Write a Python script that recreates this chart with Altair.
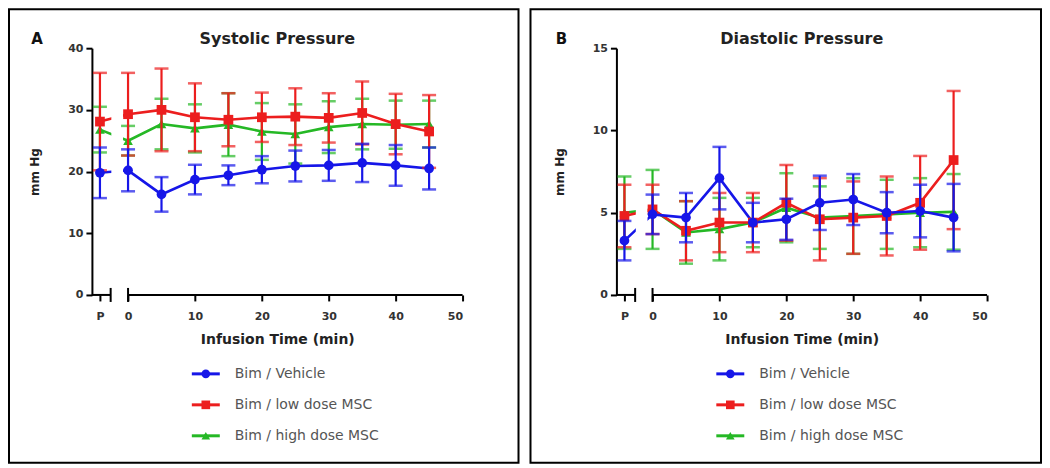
import altair as alt
import pandas as pd

# ---------------- data ----------------
time_labels = ["P", "0", "5", "10", "15", "20", "25", "30", "35", "40", "45"]
series = ["Bim / Vehicle", "Bim / low dose MSC", "Bim / high dose MSC"]
colors = ["#1616e8", "#ec1e1e", "#25b825"]
shapes = ["circle", "square", "triangle-up"]

sys_vehicle_mean = [19.8, 20.2, 16.3, 18.7, 19.4, 20.3, 20.9, 21.0, 21.4, 21.0, 20.5]
sys_vehicle_err = [4.1, 3.4, 2.8, 2.4, 1.6, 2.2, 2.5, 2.5, 3.1, 3.3, 3.4]
sys_low_mean = [28.1, 29.3, 30.0, 28.8, 28.4, 28.8, 28.9, 28.7, 29.5, 27.7, 26.5]
sys_low_err = [7.9, 6.7, 6.7, 5.5, 4.3, 4.0, 4.6, 4.0, 5.1, 4.9, 5.9]
sys_high_mean = [26.8, 25.0, 27.7, 27.0, 27.6, 26.5, 26.1, 27.2, 27.7, 27.6, 27.7]
sys_high_err = [3.7, 2.4, 4.1, 3.9, 5.1, 4.6, 4.8, 4.2, 4.1, 3.9, 3.8]

dia_vehicle_mean = [3.3, 4.9, 4.7, 7.1, 4.4, 4.6, 5.6, 5.8, 5.0, 5.1, 4.7]
dia_vehicle_err = [1.2, 1.2, 1.5, 1.9, 1.2, 1.25, 1.65, 1.55, 1.25, 1.6, 2.05]
dia_low_mean = [4.8, 5.2, 3.9, 4.4, 4.4, 5.6, 4.6, 4.7, 4.8, 5.6, 8.2]
dia_low_err = [1.9, 1.5, 1.8, 1.8, 1.8, 2.3, 2.5, 2.2, 2.4, 2.85, 4.2]
dia_high_mean = [5.0, 5.2, 3.8, 4.0, 4.4, 5.3, 4.7, 4.8, 4.9, 5.0, 5.05]
dia_high_err = [2.2, 2.4, 1.9, 1.9, 1.5, 2.1, 1.9, 2.3, 2.1, 2.1, 2.3]

x_ticks = [0, 10, 20, 30, 40, 50]

# ---------------- layout / style ----------------
P_POS = -4.2
X_MIN = -5.4
X_MAX = 50
BREAK_L = -2.6
W, H = 371, 247
FONT = "DejaVu Sans"

x_pos = [P_POS if t == "P" else float(t) for t in time_labels]


def make_df(means, errs):
    rows = []
    for s, m, e in zip(series, means, errs):
        for xp, tl, mv, ev in zip(x_pos, time_labels, m, e):
            rows.append({"series": s, "t": xp, "label": tl, "mean": mv,
                         "lo": mv - ev, "hi": mv + ev})
    return pd.DataFrame(rows)


def panel(letter, title, means, errs, ymax, ystep, frame):
    df = make_df(means, errs)
    xsc = alt.Scale(domain=[X_MIN, X_MAX], nice=False, zero=False)
    ysc = alt.Scale(domain=[0, ymax], nice=False, zero=True)
    xaxis = alt.Axis(values=[P_POS] + x_ticks,
                     labelExpr="datum.value < -1 ? 'P' : datum.label",
                     domain=False, grid=False, tickColor="black", tickWidth=2,
                     tickSize=6, labelFont=FONT, labelFontSize=11,
                     labelFontWeight="bold", labelColor="#333",
                     labelPadding=10, title="Infusion Time (min)",
                     titleFont=FONT, titleFontSize=14, titleFontWeight="bold",
                     titleColor="#222", titlePadding=11)
    yaxis = alt.Axis(values=list(range(0, ymax + 1, ystep)), grid=False,
                     domainColor="black", domainWidth=2, tickColor="black",
                     tickWidth=2, tickSize=6, labelFont=FONT, labelFontSize=11,
                     labelFontWeight="bold", labelColor="#333", labelPadding=3,
                     title="mm Hg", titleFont=FONT, titleFontSize=12,
                     titleFontWeight="bold", titleColor="#222", titlePadding=26)
    X = alt.X("t:Q", scale=xsc, axis=xaxis)

    layers = []
    order = [2, 1, 0]
    # lines
    for i in order:
        d = df[df.series == series[i]]
        layers.append(alt.Chart(d).mark_line(color=colors[i], strokeWidth=2.6).encode(
            x=X, y=alt.Y("mean:Q", scale=ysc, axis=yaxis)))
    # axis break mask
    blank = pd.DataFrame({"k": [0]})
    layers.append(alt.Chart(blank).mark_rect(color="white").encode(
        x=alt.datum(BREAK_L + 0.1, scale=xsc), x2=alt.datum(-0.75),
        y=alt.value(0), y2=alt.value(H - 2)))
    # error bars and markers
    for i in order:
        d = df[df.series == series[i]]
        layers.append(alt.Chart(d).mark_rule(color=colors[i], strokeWidth=2.2).encode(
            x=X, y=alt.Y("lo:Q", scale=ysc, axis=yaxis), y2="hi:Q"))
        for f in ["lo", "hi"]:
            layers.append(alt.Chart(d).mark_tick(color=colors[i], orient="horizontal",
                                                 size=14, thickness=2.5).encode(
                x=X, y=alt.Y(f + ":Q", scale=ysc, axis=yaxis)))
        layers.append(alt.Chart(d).mark_point(color=colors[i], filled=True, opacity=1,
                                              shape=shapes[i], size=95).encode(
            x=X, y=alt.Y("mean:Q", scale=ysc, axis=yaxis)))
    # x axis segments with break
    layers.append(alt.Chart(blank).mark_rule(color="black", strokeWidth=2).encode(
        x=alt.datum(X_MIN, scale=xsc), x2=alt.datum(BREAK_L), y=alt.value(H)))
    layers.append(alt.Chart(blank).mark_rule(color="black", strokeWidth=2).encode(
        x=alt.datum(0, scale=xsc), x2=alt.datum(X_MAX), y=alt.value(H)))
    for bx in [BREAK_L, 0]:
        layers.append(alt.Chart(blank).mark_rule(color="black", strokeWidth=2).encode(
            x=alt.datum(bx, scale=xsc), y=alt.value(H - 7), y2=alt.value(H + 7)))
    # titles
    layers.append(alt.Chart(pd.DataFrame({"s": [title]})).mark_text(
        font=FONT, fontSize=16, fontWeight="bold", color="#222",
        align="center", baseline="middle").encode(
        text="s:N", x=alt.value(W / 2), y=alt.value(-9)))
    layers.append(alt.Chart(pd.DataFrame({"s": [letter]})).mark_text(
        font=FONT, fontSize=15, fontWeight="bold", color="#111",
        align="center", baseline="middle").encode(
        text="s:N", x=alt.value(-55), y=alt.value(-9)))
    # legend
    for i, s in enumerate(series):
        ly = 326 + 31 * i
        one = pd.DataFrame({"s": [s]})
        layers.append(alt.Chart(one).mark_rule(color=colors[i], strokeWidth=3).encode(
            x=alt.value(100), x2=alt.value(128), y=alt.value(ly)))
        layers.append(alt.Chart(one).mark_point(color=colors[i], filled=True, opacity=1,
                                                shape=shapes[i], size=75).encode(
            x=alt.value(114), y=alt.value(ly)))
        layers.append(alt.Chart(one).mark_text(
            font=FONT, fontSize=14, color="#555", align="left",
            baseline="middle").encode(
            text="s:N", x=alt.value(143), y=alt.value(ly)))
    # frame
    fl, fr, ft, fb = frame
    layers.append(alt.Chart(blank).mark_rect(fill="white", fillOpacity=0,
                                             stroke="black", strokeWidth=2).encode(
        x=alt.value(fl), x2=alt.value(fr), y=alt.value(ft), y2=alt.value(fb)))
    return alt.layer(*layers).properties(width=W, height=H)


panel_a = panel("A", "Systolic Pressure",
                [sys_vehicle_mean, sys_low_mean, sys_high_mean],
                [sys_vehicle_err, sys_low_err, sys_high_err], 40, 10,
                (-83, 427, -39, 415))
panel_b = panel("B", "Diastolic Pressure",
                [dia_vehicle_mean, dia_low_mean, dia_high_mean],
                [dia_vehicle_err, dia_low_err, dia_high_err], 15, 5,
                (-86, 425, -39, 415))

chart = alt.hconcat(panel_a, panel_b, spacing=10).properties(
    padding=0, background="white"
).configure_view(stroke=None)

chart.save("out.html", embed_options={"renderer": "svg", "actions": False})
